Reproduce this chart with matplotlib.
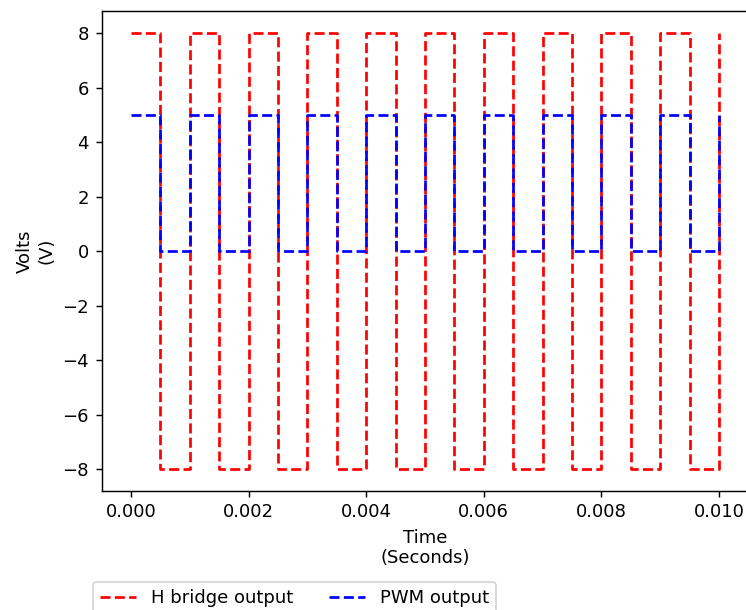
import matplotlib
matplotlib.use('Agg')
import matplotlib.pyplot as plt

# switching instants (seconds) and the level held from each instant on
t = [0.0000, 0.0005, 0.0010, 0.0015, 0.0020, 0.0025, 0.0030, 0.0035, 0.0040, 0.0045,
     0.0050, 0.0055, 0.0060, 0.0065, 0.0070, 0.0075, 0.0080, 0.0085, 0.0090, 0.0095,
     0.0100]
h_bridge = [8, -8, 8, -8, 8, -8, 8, -8, 8, -8,
            8, -8, 8, -8, 8, -8, 8, -8, 8, -8,
            8]
pwm = [5, 0, 5, 0, 5, 0, 5, 0, 5, 0,
       5, 0, 5, 0, 5, 0, 5, 0, 5, 0,
       5]

dpi = 130
fig = plt.figure(figsize=(746 / dpi, 610 / dpi), dpi=dpi)
ax = fig.add_axes([0.1362, 0.1954, 0.867, 0.786])
ax.step(t, h_bridge, where='post', color='red', linestyle='--', label='H bridge output')
ax.step(t, pwm, where='post', color='blue', linestyle='--', label='PWM output')
ax.set_xlabel('Time\n(Seconds)')
ax.set_ylabel('Volts\n(V)')
ax.set_xticks([0.000, 0.002, 0.004, 0.006, 0.008, 0.010])
ax.set_xticklabels(['0.000', '0.002', '0.004', '0.006', '0.008', '0.010'])
fig.legend(loc='upper left', bbox_to_anchor=(0.1247, 0.0459), ncol=2, borderaxespad=0)
fig.savefig('out.png', dpi=dpi)
